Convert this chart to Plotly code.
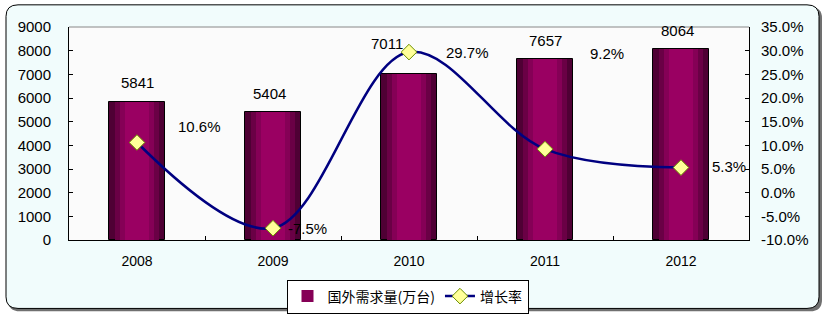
import plotly.graph_objects as go

years = ["2008", "2009", "2010", "2011", "2012"]
demand = [5841, 5404, 7011, 7657, 8064]
growth = [10.6, -7.5, 29.7, 9.2, 5.3]
growth_labels = ["10.6%", "-7.5%", "29.7%", "9.2%", "5.3%"]
left_ticks = [0, 1000, 2000, 3000, 4000, 5000, 6000, 7000, 8000, 9000]
right_ticks = [-10, -5, 0, 5, 10, 15, 20, 25, 30, 35]
right_tick_text = ["-10.0%", "-5.0%", "0.0%", "5.0%", "10.0%", "15.0%",
                   "20.0%", "25.0%", "30.0%", "35.0%"]
bar_name = "国外需求量(万台)"
line_name = "增长率"

# styling / label offsets (pixels)
bar_label_dx = [0, -4, -22, 0, -4]
bar_label_dy = [9, 8, 20, 8, 8]
line_label_dx = [39, 13, 35, 43, 29]
line_label_dy = [16, 0, 0, 96, 1]

W, H = 825, 326
L, R, T, B = 69, 749, 27, 248

def px(x):
    return (x - L) / (R - L)

def py(y):
    return (B - y) / (B - T)

def rrect(x0, y0, x1, y1, r):
    pts = [
        f"M {px(x0 + r)} {py(y0)}",
        f"L {px(x1 - r)} {py(y0)}",
        f"Q {px(x1)} {py(y0)} {px(x1)} {py(y0 + r)}",
        f"L {px(x1)} {py(y1 - r)}",
        f"Q {px(x1)} {py(y1)} {px(x1 - r)} {py(y1)}",
        f"L {px(x0 + r)} {py(y1)}",
        f"Q {px(x0)} {py(y1)} {px(x0)} {py(y1 - r)}",
        f"L {px(x0)} {py(y0 + r)}",
        f"Q {px(x0)} {py(y0)} {px(x0 + r)} {py(y0)}",
        "Z",
    ]
    return " ".join(pts)

fig = go.Figure()

layers = [(0.412, "#4f0034", True), (0.32, "#6a0045", False),
          (0.25, "#850056", False), (0.17, "#9a0062", False)]
for i, (w, c, outer) in enumerate(layers):
    fig.add_trace(go.Bar(
        x=years, y=demand, width=w, name=bar_name,
        marker=dict(color=c, line=dict(color="black", width=1 if outer else 0)),
        showlegend=(i == 2), hoverinfo="skip", yaxis="y",
    ))

fig.add_trace(go.Scatter(
    x=years, y=growth, name=line_name, yaxis="y2", mode="lines+markers",
    line=dict(color="#000080", width=2.5, shape="spline", smoothing=1.0),
    marker=dict(symbol="diamond", size=12, color="#ffff99",
                line=dict(color="#6b8e00", width=1)),
    hoverinfo="skip",
))

font = "Arial, Liberation Sans, sans-serif"
ann = []
for i, yr in enumerate(years):
    ann.append(dict(x=i, y=demand[i], xref="x", yref="y", text=str(demand[i]),
                    showarrow=False, xanchor="center", yanchor="bottom",
                    xshift=bar_label_dx[i], yshift=bar_label_dy[i],
                    font=dict(family=font, size=15, color="black")))
    ann.append(dict(x=i, y=growth[i], xref="x", yref="y2", text=growth_labels[i],
                    showarrow=False, xanchor="left", yanchor="middle",
                    xshift=line_label_dx[i], yshift=line_label_dy[i],
                    font=dict(family=font, size=15, color="black")))

shapes = [
    dict(type="path", xref="paper", yref="paper", path=rrect(8, 6, 822, 322, 12),
         fillcolor="#707070", line=dict(width=0), layer="below"),
    dict(type="path", xref="paper", yref="paper", path=rrect(6, 4, 819, 319, 12),
         fillcolor="#f1fcfc", line=dict(color="black", width=1), layer="below"),
    dict(type="rect", xref="paper", yref="paper", x0=0, x1=1, y0=0, y1=1,
         fillcolor="#fbfbfb", line=dict(width=0), layer="below"),
    dict(type="line", xref="paper", yref="paper", x0=0, x1=1, y0=1, y1=1,
         line=dict(color="#888888", width=1), layer="above"),
]

fig.update_layout(
    width=W, height=H,
    margin=dict(l=L, r=W - R, t=T, b=H - B, pad=0),
    paper_bgcolor="white", plot_bgcolor="rgba(0,0,0,0)",
    barmode="overlay", bargap=0,
    font=dict(family=font, size=15, color="black"),
    showlegend=True,
    legend=dict(orientation="h", x=px(407.5), xanchor="center", y=py(289), yanchor="top",
                bgcolor="white", bordercolor="black", borderwidth=1,
                font=dict(family="Noto Sans CJK SC, sans-serif", size=14),
                itemwidth=30, tracegroupgap=0),
    xaxis=dict(type="category", range=[-0.5, 4.5], autorange=False, showgrid=False,
               showline=True, linecolor="black",
               linewidth=1, ticks="inside", ticklen=4, tickcolor="black",
               tickson="boundaries", ticklabelstandoff=8, zeroline=False,
               tickfont=dict(size=14)),
    yaxis=dict(range=[0, 9000], tickvals=left_ticks, showgrid=False, showline=True,
               linecolor="black", linewidth=1, ticks="inside", ticklen=4,
               tickcolor="black", zeroline=False, ticklabelstandoff=14,
               tickfont=dict(size=15)),
    yaxis2=dict(range=[-10, 35], tickvals=right_ticks, ticktext=right_tick_text,
                overlaying="y", side="right",
                showgrid=False, showline=True, linecolor="black", linewidth=1,
                ticks="inside", ticklen=4, tickcolor="black", zeroline=False,
                ticklabelstandoff=8, tickfont=dict(size=15)),
    annotations=ann, shapes=shapes,
)

fig.write_html("out.html")
